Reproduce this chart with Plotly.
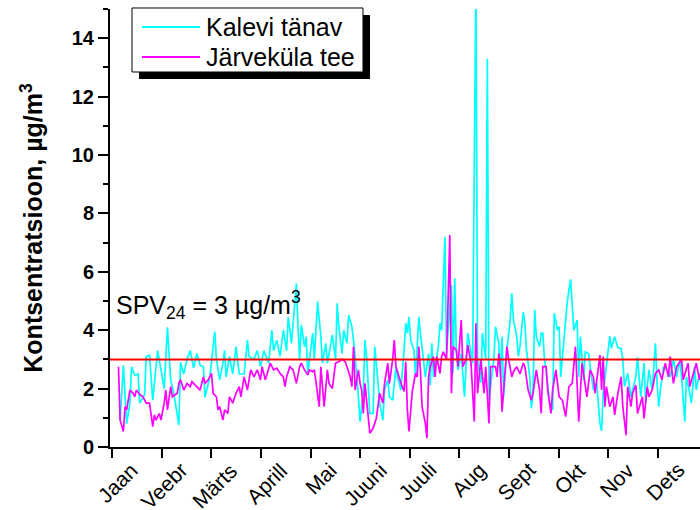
import plotly.graph_objects as go

# Daily mean concentrations (µg/m³), day of year
kalevi_days = [6, 8, 10, 12, 13, 15, 17, 18, 21, 22, 24, 26, 29, 31, 33, 35, 37, 39, 42, 43,
               45, 47, 49, 51, 53, 55, 57, 58, 61, 64, 65, 67, 69, 70, 71, 73, 75, 77, 79, 82,
               84, 85, 88, 90, 92, 94, 97, 99, 100, 102, 104, 106, 108, 109, 111, 112, 114, 115, 116, 117,
               119, 120, 121, 124, 125, 127, 129, 130, 132, 133, 136, 138, 139, 140, 142, 143, 145, 146, 148, 149,
               150, 152, 153, 155, 156, 157, 159, 161, 162, 164, 165, 167, 168, 170, 171, 173, 175, 176, 178, 180,
               181, 182, 183, 184, 186, 187, 189, 190, 191, 193, 195, 196, 197, 198, 201, 202, 203, 204, 205, 206,
               209, 210, 211, 212, 213, 215, 217, 219, 221, 222, 224, 225, 227, 228, 230, 231, 232, 235, 236, 238,
               239, 240, 241, 243, 245, 246, 247, 249, 250, 251, 253, 254, 255, 257, 258, 259, 260, 261, 263, 264,
               265, 266, 267, 269, 271, 272, 274, 275, 276, 279, 280, 282, 284, 286, 287, 288, 290, 291, 293, 294,
               296, 298, 300, 301, 302, 304, 306, 307, 309, 311, 313, 314, 315, 317, 319, 322, 323, 325, 327, 328,
               330, 332, 334, 335, 336, 337, 339, 341, 343, 345, 347, 349, 350, 352, 353, 355, 356, 358, 359, 361,
               362]
kalevi = [0.9, 2.8, 0.8, 1.5, 2.75, 2.45, 2.5, 1.5, 1.8, 3.1, 3.15, 1.6, 3.3, 2.6, 2.0, 4.1, 2.3, 1.8, 0.75, 2.9,
          2.5, 3.0, 3.3, 2.7, 3.2, 2.8, 2.75, 1.7, 2.4, 3.95, 3.0, 2.3, 2.87, 3.3, 2.4, 3.1, 2.5, 3.44, 2.5, 2.5,
          3.66, 3.1, 3.0, 3.3, 2.75, 3.3, 2.87, 4.0, 3.3, 3.66, 3.1, 4.0, 3.3, 4.46, 3.55, 4.23, 5.6, 4.1, 3.0, 4.18,
          3.44, 3.78, 2.52, 3.9, 3.0, 4.98, 3.78, 2.87, 3.55, 2.87, 3.84, 3.0, 4.92, 4.12, 3.2, 4.0, 3.55, 4.52, 4.12, 3.66,
          3.1, 1.72, 0.87, 1.84, 3.66, 3.1, 1.15, 1.15, 3.44, 2.2, 1.5, 0.92, 1.95, 2.3, 1.72, 1.6, 2.75, 2.4, 1.95, 3.32,
          4.24, 3.9, 4.46, 3.66, 3.32, 2.4, 4.46, 3.9, 3.44, 2.4, 3.2, 2.12, 3.55, 2.4, 3.44, 4.24, 4.0, 5.6, 7.2, 3.2,
          5.55, 2.52, 5.78, 3.32, 2.64, 3.2, 1.72, 3.9, 3.2, 2.87, 16.2, 3.0, 2.2, 3.9, 3.0, 13.3, 1.6, 3.0, 4.12, 3.55,
          2.4, 3.78, 1.72, 3.32, 4.35, 5.26, 4.35, 3.78, 3.1, 3.44, 4.63, 4.23, 3.32, 2.4, 1.32, 1.84, 4.7, 3.78, 3.44, 3.9,
          3.9, 3.0, 2.64, 1.6, 1.27, 4.58, 4.0, 4.12, 2.4, 4.35, 5.0, 5.74, 4.0, 4.35, 2.4, 3.78, 2.3, 3.26, 3.2, 2.75,
          1.95, 2.2, 0.81, 0.55, 1.84, 2.8, 3.8, 3.38, 3.78, 3.4, 3.37, 3.0, 2.07, 2.52, 1.72, 2.4, 3.07, 1.72, 2.87, 1.5,
          2.64, 1.95, 3.55, 2.2, 1.38, 1.95, 2.75, 2.64, 2.4, 3.0, 2.4, 3.0, 2.4, 0.87, 2.4, 1.84, 1.5, 2.75, 1.95, 2.52,
          2.2]

jarvekula_days = [5, 6, 8, 9, 10, 12, 14, 15, 16, 18, 20, 21, 22, 24, 26, 27, 28, 30, 31, 33,
                  34, 35, 37, 38, 41, 42, 43, 45, 47, 49, 50, 52, 55, 57, 58, 60, 62, 63, 65, 66,
                  67, 69, 70, 72, 73, 75, 77, 79, 80, 82, 84, 86, 88, 90, 92, 93, 95, 98, 100, 102,
                  104, 106, 107, 108, 110, 112, 114, 116, 117, 119, 121, 122, 124, 125, 126, 128, 129, 131, 133, 134,
                  136, 138, 140, 142, 144, 146, 147, 148, 149, 150, 152, 153, 154, 155, 156, 158, 159, 161, 163, 165,
                  167, 168, 170, 171, 173, 174, 175, 178, 180, 181, 182, 183, 185, 187, 188, 189, 190, 191, 193, 194,
                  195, 196, 198, 199, 200, 202, 203, 204, 206, 208, 209, 210, 212, 213, 215, 216, 218, 219, 221, 223,
                  224, 225, 227, 229, 230, 232, 233, 236, 237, 238, 239, 240, 243, 244, 246, 247, 249, 251, 253, 254,
                  256, 258, 259, 261, 263, 264, 265, 267, 268, 270, 271, 273, 275, 277, 279, 281, 283, 285, 287, 289,
                  290, 292, 294, 296, 297, 300, 301, 302, 303, 304, 306, 308, 309, 311, 313, 314, 316, 317, 319, 320,
                  322, 323, 326, 327, 329, 330, 332, 334, 336, 338, 340, 342, 343, 345, 347, 350, 351, 354, 355, 357,
                  359, 361, 362]
jarvekula = [2.75, 0.92, 0.53, 1.38, 1.27, 1.95, 1.84, 1.72, 1.95, 1.8, 1.72, 1.6, 1.5, 1.5, 0.7, 1.1, 0.92, 1.15, 0.92, 1.5,
             1.95, 1.27, 2.07, 1.72, 1.84, 2.18, 2.3, 1.95, 2.18, 2.07, 2.24, 2.12, 1.95, 2.4, 2.18, 2.3, 2.52, 1.84, 1.72, 1.27,
             1.38, 0.92, 1.27, 1.15, 1.72, 1.5, 1.84, 2.07, 1.72, 2.4, 1.95, 2.64, 2.4, 2.64, 2.3, 2.75, 2.3, 2.87, 2.64, 2.7,
             2.52, 2.4, 2.07, 2.4, 2.75, 2.64, 2.18, 2.75, 2.87, 2.64, 2.47, 2.64, 2.58, 2.64, 2.18, 1.38, 2.75, 1.38, 2.64, 2.18,
             2.0, 2.87, 2.92, 3.0, 2.92, 2.52, 2.4, 2.07, 3.44, 1.95, 2.64, 2.18, 1.95, 1.15, 2.18, 1.04, 0.47, 0.64, 0.98, 1.84,
             1.5, 2.18, 2.87, 2.18, 3.0, 3.66, 2.75, 2.2, 1.9, 2.92, 1.27, 0.53, 1.9, 2.52, 2.4, 3.44, 2.64, 1.38, 0.81, 0.3,
             2.4, 2.75, 3.1, 2.4, 3.1, 2.52, 3.1, 3.26, 3.0, 7.26, 1.84, 3.44, 3.32, 2.75, 4.35, 2.75, 3.0, 3.5, 2.87, 0.87,
             4.24, 1.84, 3.0, 1.84, 2.75, 0.81, 2.75, 2.75, 2.4, 3.2, 2.7, 1.21, 3.44, 3.0, 2.4, 2.58, 2.75, 2.5, 2.87, 2.75,
             1.95, 1.6, 1.84, 2.64, 1.95, 1.15, 2.75, 2.75, 1.95, 1.15, 1.95, 2.64, 1.72, 1.6, 1.04, 2.07, 2.18, 3.44, 0.87, 2.87,
             2.52, 1.72, 2.64, 2.4, 1.84, 3.15, 1.95, 3.1, 1.38, 2.07, 1.38, 1.72, 1.1, 1.84, 2.4, 1.38, 0.41, 2.07, 1.38, 1.84,
             2.12, 1.15, 1.72, 0.98, 2.07, 1.72, 1.95, 2.52, 2.64, 2.3, 2.87, 2.4, 3.1, 2.18, 2.75, 3.0, 2.3, 2.87, 2.07, 2.52,
             2.87, 2.3, 2.6]

months = ["Jaan", "Veebr", "Märts", "Aprill", "Mai", "Juuni",
          "Juuli", "Aug", "Sept", "Okt", "Nov", "Dets"]
month_ticks = [1 + k * 365 / 12 for k in range(len(months))]

series_names = ["Kalevi tänav", "Järveküla tee"]
series_colors = ["#00FFFF", "#FF00FF"]

limit_value = 3  # SPV24 daily limit, µg/m³

FONT = "Liberation Sans, Arial, sans-serif"

fig = go.Figure()
for days, values, name, color in zip([kalevi_days, jarvekula_days], [kalevi, jarvekula],
                                     series_names, series_colors):
    fig.add_trace(go.Scatter(x=days, y=values, mode="lines", name=name, showlegend=False,
                             line=dict(color=color, width=1.7)))

# limit line
fig.add_shape(type="line", xref="paper", yref="y", x0=0, x1=1, y0=limit_value, y1=limit_value,
              line=dict(color="#FF0000", width=2), layer="above")

# legend box with a drop shadow, drawn in paper coordinates
fig.add_shape(type="rect", xref="paper", yref="paper", x0=0.0492, x1=0.4407, y0=0.8402, y1=0.9863,
              fillcolor="black", line=dict(width=0), layer="above")
fig.add_shape(type="rect", xref="paper", yref="paper", x0=0.0373, x1=0.4288, y0=0.8562, y1=1.0023,
              fillcolor="white", line=dict(color="black", width=1), layer="above")
legend_rows = [0.9589, 0.8904]
for name, color, ry in zip(series_names, series_colors, legend_rows):
    fig.add_shape(type="line", xref="paper", yref="paper", x0=0.0542, x1=0.1525, y0=ry, y1=ry,
                  line=dict(color=color, width=2), layer="above")
    fig.add_annotation(x=0.1595, y=ry, xref="paper", yref="paper", xanchor="left", yanchor="middle",
                       text=name, showarrow=False,
                       font=dict(family=FONT, size=25, color="black"))

fig.add_annotation(x=2, y=4.85, xref="x", yref="y", xanchor="left", yanchor="middle",
                   text="SPV<sub>24</sub> = 3 µg/m<sup>3</sup>", showarrow=False,
                   font=dict(family=FONT, size=25, color="black"))

# slanted month names below the ticks
for pos, label in zip(month_ticks, months):
    fig.add_annotation(x=pos, y=0, xref="x", yref="paper", xanchor="right", yanchor="top",
                       xshift=32, yshift=-10, textangle=-45, text=label, showarrow=False,
                       borderpad=0, font=dict(family=FONT, size=21, color="black"))

fig.update_layout(
    width=700, height=510,
    margin=dict(l=110, r=0, t=9, b=63),
    paper_bgcolor="white", plot_bgcolor="white",
    font=dict(family=FONT, color="black"),
    showlegend=False,
    xaxis=dict(range=[-0.2, 361.3], tickmode="array", tickvals=month_ticks, ticktext=months,
               showticklabels=False,
               ticks="outside", ticklen=9, tickwidth=2, tickcolor="black",
               showline=True, linecolor="black", linewidth=2, showgrid=False, zeroline=False,
               automargin=False),
    yaxis=dict(range=[0, 15], tickmode="linear", tick0=0, dtick=2,
               ticks="outside", ticklen=10, tickwidth=2, tickcolor="black",
               minor=dict(dtick=1, tick0=0, ticks="outside", ticklen=5, tickwidth=2, tickcolor="black"),
               showline=True, linecolor="black", linewidth=2, showgrid=False, zeroline=False,
               automargin=False,
               tickfont=dict(family=FONT, size=20, color="black", weight="bold"),
               title=dict(text="<b>Kontsentratsioon, µg/m<sup>3</sup></b>",
                          font=dict(family=FONT, size=25, color="black"), standoff=22)),
)

fig.write_html("out.html")
